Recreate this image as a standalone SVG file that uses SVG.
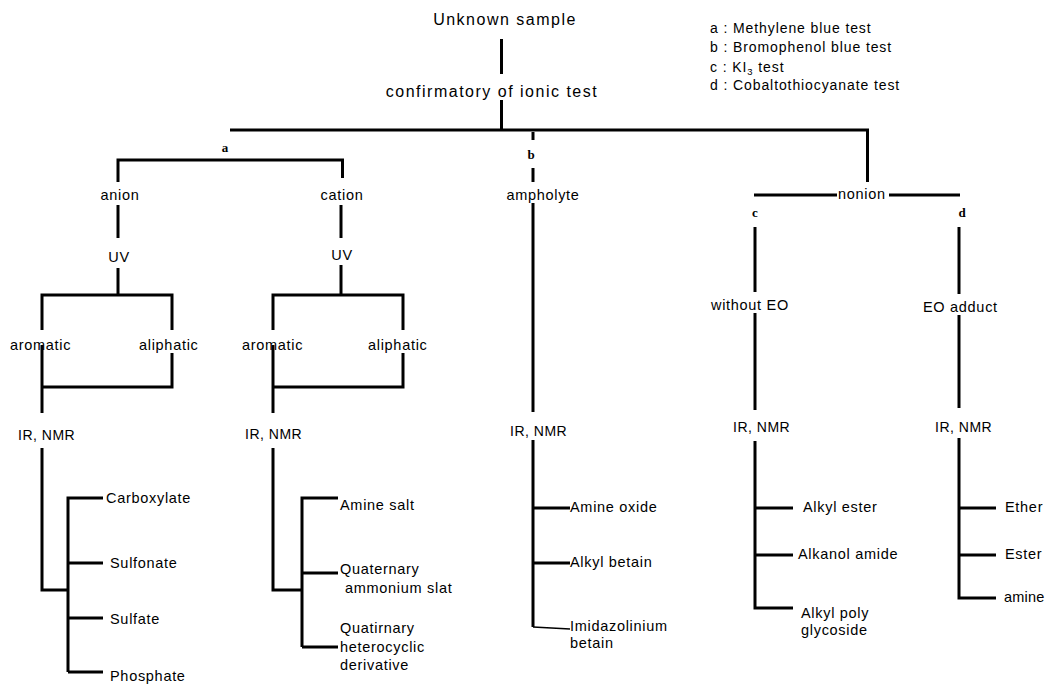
<svg xmlns="http://www.w3.org/2000/svg" width="1046" height="686" viewBox="0 0 1046 686">
<style>
.t{font-family:"Liberation Sans",Arial,Helvetica,sans-serif;font-size:14.5px;letter-spacing:0.7px;fill:#000}
.big{font-size:16px;letter-spacing:1.5px}
.lg{font-size:14px;letter-spacing:0.9px}
.ir{font-size:14px;letter-spacing:0.5px}
.m{text-anchor:middle}
.k{font-family:"Liberation Serif","Times New Roman",serif;font-size:13px;font-weight:bold;fill:#000;text-anchor:middle}
.c path{fill:none;stroke:#000;stroke-width:3;stroke-linecap:butt;stroke-linejoin:miter}
.c path.thin{stroke-width:1.5}
</style>
<rect width="1046" height="686" fill="#fff"/>
<g id="connectors" class="c">
<path d="M501.5,39V74"/>
<path d="M501.5,100V130"/>
<path d="M230,130H869M867.5,130V182"/>
<path d="M118,182V160H342.5V178"/>
<path d="M118,205V238"/>
<path d="M118,268V295"/>
<path d="M42,330V295H172V330"/>
<path d="M172,353V387H42"/>
<path d="M42,345V413"/>
<path d="M42,448V590H68"/>
<path d="M68,672V498H103"/>
<path d="M68,563H103M68,618H103M68,672H103"/>
<path d="M341,205V238"/>
<path d="M341,265V295"/>
<path d="M273,330V295H403V330"/>
<path d="M403,353V387H273"/>
<path d="M273,345V413"/>
<path d="M273,448V590H302"/>
<path d="M302,647V498H338"/>
<path d="M302,573H338M302,647H338"/>
<path d="M533,132V140"/>
<path d="M533,168V182"/>
<path d="M533,203V412"/>
<path d="M533,440V627"/>
<path d="M533,508H570M533,563H570"/>
<path class="thin" d="M533,627L570,629"/>
<path d="M754,195H837M889,195H960"/>
<path d="M755,227V292"/>
<path d="M755,313V410"/>
<path d="M755,441V608H793"/>
<path d="M755,508H793M755,555H793"/>
<path d="M959,227V294"/>
<path d="M959,315V408"/>
<path d="M959,438V598H996"/>
<path d="M959,508H996M959,555H996"/>
</g>
<g id="root"><text class="t big m" x="505" y="25">Unknown sample</text></g>
<g id="confirm"><text class="t big m" x="492" y="97">confirmatory of ionic test</text></g>
<g id="legend">
<text class="t lg" x="710" y="33">a : Methylene blue test</text>
<text class="t lg" x="710" y="52">b : Bromophenol blue test</text>
<text class="t lg" x="710" y="72">c : KI<tspan font-size="9.5" dy="3">3</tspan><tspan dy="-3"> test</tspan></text>
<text class="t lg" x="710" y="90">d : Cobaltothiocyanate test</text>
</g>
<g id="label-a"><text class="k" x="225" y="152">a</text></g>
<g id="label-b"><text class="k" x="531" y="159">b</text></g>
<g id="label-c"><text class="k" x="755" y="217">c</text></g>
<g id="label-d"><text class="k" x="962" y="217">d</text></g>
<g id="anion"><text class="t m" x="120" y="200">anion</text></g>
<g id="cation"><text class="t m" x="342" y="200">cation</text></g>
<g id="ampholyte"><text class="t m" x="543" y="200">ampholyte</text></g>
<g id="nonion"><text class="t" x="838" y="199">nonion</text></g>
<g id="uv-anion"><text class="t m" x="119" y="262">UV</text></g>
<g id="uv-cation"><text class="t m" x="342" y="260">UV</text></g>
<g id="aromatic-anion"><text class="t" x="10" y="350">aromatic</text></g>
<g id="aliphatic-anion"><text class="t" x="139" y="350">aliphatic</text></g>
<g id="aromatic-cation"><text class="t" x="242" y="350">aromatic</text></g>
<g id="aliphatic-cation"><text class="t" x="368" y="350">aliphatic</text></g>
<g id="without-eo"><text class="t" x="711" y="310">without EO</text></g>
<g id="eo-adduct"><text class="t" x="923" y="312">EO adduct</text></g>
<g id="irnmr-anion"><text class="t ir" x="18" y="440">IR, NMR</text></g>
<g id="irnmr-cation"><text class="t ir" x="245" y="439">IR, NMR</text></g>
<g id="irnmr-ampholyte"><text class="t ir" x="510" y="436">IR, NMR</text></g>
<g id="irnmr-c"><text class="t ir" x="733" y="432">IR, NMR</text></g>
<g id="irnmr-d"><text class="t ir" x="935" y="432">IR, NMR</text></g>
<g id="carboxylate"><text class="t" x="106" y="503">Carboxylate</text></g>
<g id="sulfonate"><text class="t" x="110" y="568">Sulfonate</text></g>
<g id="sulfate"><text class="t" x="110" y="624">Sulfate</text></g>
<g id="phosphate"><text class="t" x="110" y="681">Phosphate</text></g>
<g id="amine-salt"><text class="t" x="340" y="510">Amine salt</text></g>
<g id="quaternary"><text class="t" x="340" y="574">Quaternary</text><text class="t" x="345" y="593">ammonium slat</text></g>
<g id="quatirnary"><text class="t" x="340" y="633">Quatirnary</text><text class="t" x="340" y="652">heterocyclic</text><text class="t" x="340" y="670">derivative</text></g>
<g id="amine-oxide"><text class="t" x="570" y="512">Amine oxide</text></g>
<g id="alkyl-betain"><text class="t" x="570" y="567">Alkyl betain</text></g>
<g id="imidazolinium"><text class="t" x="570" y="631">Imidazolinium</text><text class="t" x="570" y="648">betain</text></g>
<g id="alkyl-ester"><text class="t" x="803" y="512">Alkyl ester</text></g>
<g id="alkanol-amide"><text class="t" x="798" y="559">Alkanol amide</text></g>
<g id="alkyl-poly"><text class="t" x="801" y="618">Alkyl poly</text><text class="t" x="801" y="635">glycoside</text></g>
<g id="ether"><text class="t" x="1005" y="512">Ether</text></g>
<g id="ester"><text class="t" x="1005" y="559">Ester</text></g>
<g id="amine"><text class="t" x="1004" y="602" style="letter-spacing:0.2px">amine</text></g>
</svg>
